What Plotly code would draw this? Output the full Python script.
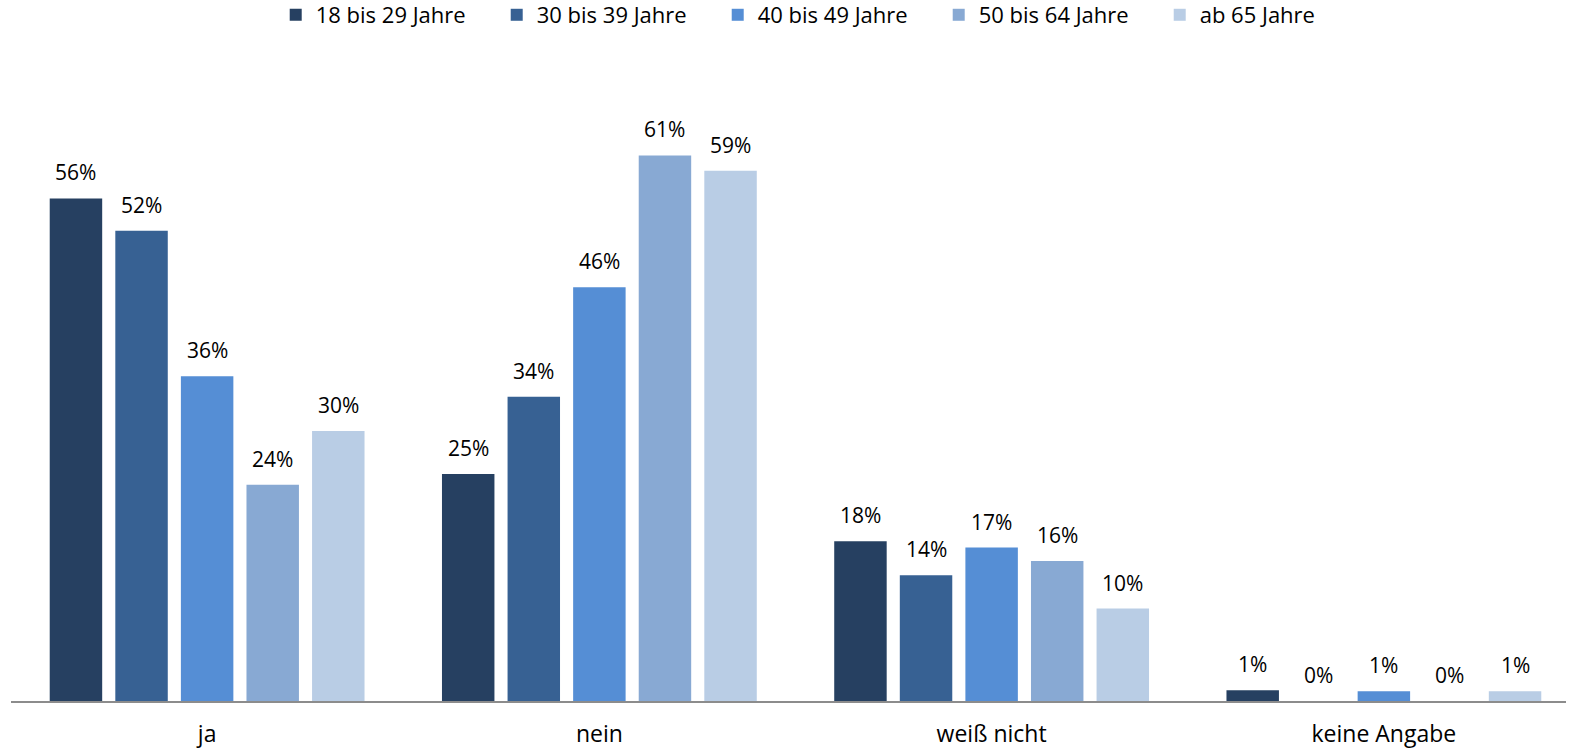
import plotly.graph_objects as go

categories = ["ja", "nein", "weiß nicht", "keine Angabe"]
series_names = ["18 bis 29 Jahre", "30 bis 39 Jahre", "40 bis 49 Jahre", "50 bis 64 Jahre", "ab 65 Jahre"]
v_18_29 = [56, 25.3, 17.8, 1.2]
v_30_39 = [52.4, 33.9, 14.0, 0]
v_40_49 = [36.2, 46.1, 17.1, 1.1]
v_50_64 = [24.1, 60.8, 15.6, 0]
v_65 = [30.1, 59.1, 10.3, 1.1]
values = [v_18_29, v_30_39, v_40_49, v_50_64, v_65]
colors = ["#264061", "#376193", "#558ED5", "#88A9D3", "#B9CDE5"]

BARGAP = 0.164
n = len(series_names)
slot = (1 - BARGAP) / n

fig = go.Figure()
annotations = []
for i, (name, vals, col) in enumerate(zip(series_names, values, colors)):
    fig.add_trace(go.Bar(
        name=name, x=categories, y=vals, marker_color=col,
        marker_line_width=0,
    ))
    off = -(1 - BARGAP) / 2 + (i + 0.5) * slot
    for ci, v in enumerate(vals):
        annotations.append(dict(
            x=ci + off, y=v, xref="x", yref="y", text=f"{v:.0f}%",
            showarrow=False, yanchor="bottom", yshift=10,
            font=dict(family="Open Sans", size=21, color="#000000"),
        ))

fig.update_layout(
    barmode="group", bargap=BARGAP, bargroupgap=0.2,
    width=1574, height=749,
    margin=dict(l=3, r=2, t=80, b=48, autoexpand=False),
    plot_bgcolor="white", paper_bgcolor="white",
    font=dict(family="Open Sans", size=21, color="#000000"),
    legend=dict(orientation="h", xref="container", yref="container",
                x=0.5211, xanchor="center", y=0.98, yanchor="middle",
                font=dict(size=22), entrywidth=176, itemwidth=30,
                traceorder="normal"),
    xaxis=dict(showline=True, linecolor="#8c8c8c", linewidth=1.5, ticks="",
               tickfont=dict(size=23), showgrid=False, automargin=False,
               ticklabelstandoff=12),
    yaxis=dict(visible=False, range=[0, 69.2], automargin=False),
    annotations=annotations,
)
fig.write_html("out.html", post_script="document.body.style.marginTop='0px';")
